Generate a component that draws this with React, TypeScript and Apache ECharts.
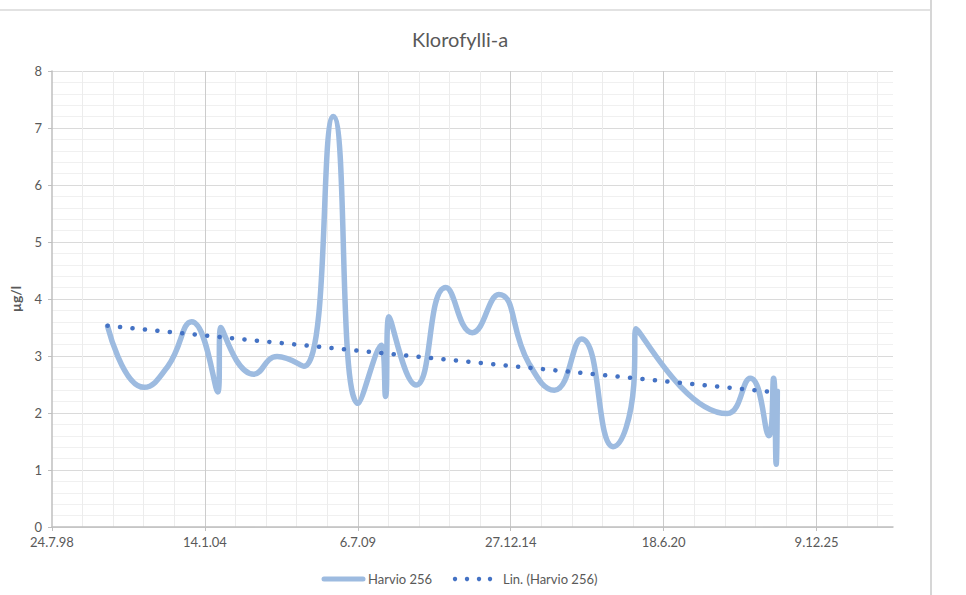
import React, { useEffect, useRef } from "react";
import * as echarts from "echarts";

const sampleDates = [
  "2000-07-20", "2001-11-09", "2002-09-16", "2003-07-25", "2004-07-01",
  "2004-08-09", "2005-10-15", "2006-08-15", "2007-08-01", "2008-08-19",
  "2009-07-10", "2010-05-08", "2010-07-04", "2010-08-16", "2011-08-06",
  "2012-08-30", "2013-08-10", "2014-07-24", "2015-08-18", "2016-07-20",
  "2017-07-10", "2018-08-26", "2019-05-25", "2019-06-20", "2022-09-27",
  "2023-07-27", "2024-03-26", "2024-05-26", "2024-06-29", "2024-07-14",
];
const sampleValues = [
  3.52, 2.45, 2.82, 3.6, 2.37,
  3.5, 2.68, 2.99, 2.82, 7.2,
  2.17, 3.19, 2.29, 3.69, 2.49,
  4.2, 3.41, 4.08, 2.88, 2.4,
  3.3, 1.41, 2.5, 3.48, 1.99,
  2.61, 1.6, 2.61, 1.1, 2.38,
];

// Linear trend line end points (as drawn in the reference)
const trendDates = ["2000-07-20", "2024-07-18"];
const trendValues = [3.53, 2.36];

// Axis settings (x axis in Excel serial day numbers)
const xAxisStart = "1998-07-24"; // first tick label 24.7.98
const xMajorDays = 2000;
const xMinorDays = 400;
const xSpanDays = 11000;
const yMin = 0;
const yMax = 8;

const seriesName = "Harvio 256";
const trendName = "Lin. (Harvio 256)";
const titleText = "Klorofylli-a";
const yAxisName = "µg/l";

const EXCEL_EPOCH = Date.UTC(1899, 11, 30);
function toSerial(s: string): number {
  const [y, m, d] = s.split("-").map(Number);
  return Math.round((Date.UTC(y, m - 1, d) - EXCEL_EPOCH) / 86400000);
}
function serialLabel(v: number): string {
  const dt = new Date(EXCEL_EPOCH + Math.round(v) * 86400000);
  const yy = String(dt.getUTCFullYear() % 100).padStart(2, "0");
  return `${dt.getUTCDate()}.${dt.getUTCMonth() + 1}.${yy}`;
}

const FONT = "Lato, 'Open Sans', sans-serif";
const TEXT = "#595959";

export default function App() {
  const ref = useRef<HTMLDivElement>(null);
  useEffect(() => {
    if (!ref.current) return;
    const chart = echarts.init(ref.current, undefined, { renderer: "svg" });
    const xMin = toSerial(xAxisStart);
    const xMax = xMin + xSpanDays;
    const lineData = sampleDates.map((d, i) => [toSerial(d), sampleValues[i]]);
    const trendData = trendDates.map((d, i) => [toSerial(d), trendValues[i]]);

    chart.setOption({
      animation: false,
      backgroundColor: "#ffffff",
      title: {
        text: titleText,
        left: 455,
        top: 24,
        textAlign: "center",
        textStyle: { fontFamily: FONT, fontSize: 20, fontWeight: "normal", color: TEXT },
      },
      grid: { left: 50, right: 73, top: 71, bottom: 68 },
      xAxis: [
        {
          // minor vertical grid
          type: "value",
          min: xMin,
          max: xMax,
          interval: xMinorDays,
          position: "bottom",
          z: 0,
          axisLine: { show: false },
          axisTick: { show: false },
          axisLabel: { show: false },
          splitLine: {
            show: true,
            showMinLine: false,
            showMaxLine: false,
            lineStyle: { color: "#ececec", width: 1 },
          },
        },
        {
          type: "value",
          min: xMin,
          max: xMax,
          interval: xMajorDays,
          position: "bottom",
          z: 2,
          axisLine: { show: true, onZero: false, lineStyle: { color: "#bfbfbf", width: 1.5 } },
          axisTick: { show: true, length: 4, lineStyle: { color: "#bfbfbf" } },
          axisLabel: {
            color: TEXT,
            fontFamily: FONT,
            fontSize: 13,
            margin: 8,
            showMaxLabel: false,
            formatter: (v: number) => serialLabel(v),
          },
          splitLine: {
            show: true,
            showMinLine: false,
            showMaxLine: false,
            lineStyle: { color: "#cccccc", width: 1 },
          },
        },
      ],
      yAxis: {
        type: "value",
        min: yMin,
        max: yMax,
        interval: 1,
        name: yAxisName,
        nameLocation: "middle",
        nameGap: 30,
        nameRotate: 90,
        nameTextStyle: { color: TEXT, fontFamily: FONT, fontSize: 14, fontWeight: "bold" },
        axisLine: { show: true, lineStyle: { color: "#bfbfbf", width: 1.5 } },
        axisTick: { show: true, length: 4, lineStyle: { color: "#bfbfbf" } },
        axisLabel: { color: TEXT, fontFamily: FONT, fontSize: 13, margin: 10 },
        splitLine: { show: true, lineStyle: { color: "#dadada", width: 1 } },
        minorTick: { show: false, splitNumber: 5 },
        minorSplitLine: { show: true, lineStyle: { color: "#f0f0f0", width: 1 } },
      },
      series: [
        {
          name: seriesName,
          type: "line",
          xAxisIndex: 1,
          data: lineData,
          smooth: 0.5,
          showSymbol: false,
          symbol: "none",
          lineStyle: { color: "#9dbbe0", width: 5.5, cap: "round", join: "round" },
          z: 3,
        },
        {
          name: trendName,
          type: "line",
          xAxisIndex: 1,
          data: trendData,
          showSymbol: false,
          symbol: "none",
          lineStyle: { color: "#4472c4", width: 4.5, type: [0.1, 12.4], cap: "round" },
          z: 4,
        },
      ],
      graphic: [
        { type: "line", shape: { x1: 0, y1: 10, x2: 931, y2: 10 }, style: { stroke: "#e2e2e2", lineWidth: 2 } },
        { type: "line", shape: { x1: 931, y1: 0, x2: 931, y2: 595 }, style: { stroke: "#d6d6d6", lineWidth: 2 } },
        {
          type: "line",
          shape: { x1: 324, y1: 579, x2: 363, y2: 579 },
          style: { stroke: "#9dbbe0", lineWidth: 5, lineCap: "round" },
        },
        {
          type: "text",
          x: 368,
          y: 579,
          style: { text: seriesName, fill: TEXT, font: `13px ${FONT}`, textVerticalAlign: "middle" },
        },
        ...[455, 467, 479, 490].map((cx) => ({
          type: "circle",
          shape: { cx, cy: 579, r: 2.2 },
          style: { fill: "#4472c4" },
        })),
        {
          type: "text",
          x: 503,
          y: 579,
          style: { text: trendName, fill: TEXT, font: `13px ${FONT}`, textVerticalAlign: "middle" },
        },
      ],
    });
    return () => chart.dispose();
  }, []);
  return (
    <div
      ref={ref}
      style={{ position: "fixed", left: 0, top: 0, width: 966, height: 595 }}
    />
  );
}
